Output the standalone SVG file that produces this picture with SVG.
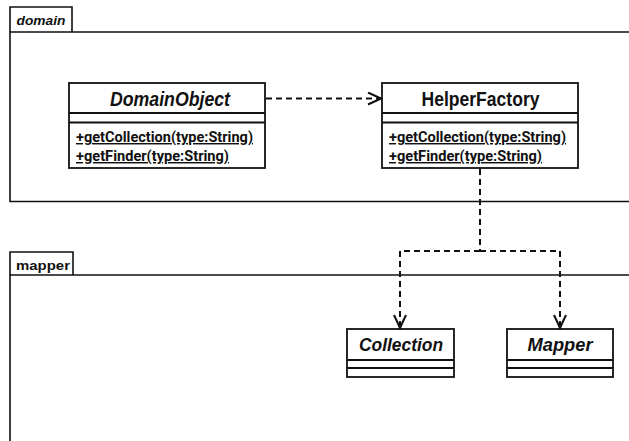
<svg xmlns="http://www.w3.org/2000/svg" width="629" height="441" viewBox="0 0 629 441">
<style>
.frame{fill:none;stroke:#111;stroke-width:1.6}
.box{fill:#fff;stroke:#111;stroke-width:1.8}
.dep{fill:none;stroke:#111;stroke-width:2;stroke-dasharray:6 4}
.title{font-family:"Liberation Sans",Arial,sans-serif;font-weight:bold;fill:#111;text-anchor:middle}
.meth{font-family:Roboto,"Liberation Sans",sans-serif;font-weight:700;font-size:14.5px;fill:#111;text-decoration:underline}
.tab{font-family:"Liberation Sans",Arial,sans-serif;font-weight:bold;font-size:13px;fill:#111}
</style>
<defs>
<marker id="open" markerWidth="16" markerHeight="14" refX="14" refY="7" orient="auto" markerUnits="userSpaceOnUse">
<path d="M1,1 L14,7 L1,13" fill="none" stroke="#111" stroke-width="2"/>
</marker>
</defs>
<rect width="629" height="441" fill="#fff"/>
<g id="domain">
<path class="frame" d="M10,32 V7 H72 V32"/>
<path class="frame" d="M640,32 H10 V201.5 H640"/>
<text class="tab" x="16.5" y="25" font-style="italic" textLength="49" lengthAdjust="spacingAndGlyphs">domain</text>
</g>
<g id="mapper">
<path class="frame" d="M10,275 V252 H73 V275"/>
<path class="frame" d="M640,275 H10 V445"/>
<text class="tab" x="16" y="270" textLength="54" lengthAdjust="spacingAndGlyphs">mapper</text>
</g>
<g id="DomainObject">
<rect class="box" x="69" y="83" width="196" height="85"/>
<line class="box" x1="69" y1="113" x2="265" y2="113"/>
<line class="box" x1="69" y1="122.5" x2="265" y2="122.5"/>
<text class="title" x="170" y="106" font-size="20" font-style="italic" textLength="120" lengthAdjust="spacingAndGlyphs">DomainObject</text>
<text class="meth" x="76" y="142" textLength="177" lengthAdjust="spacingAndGlyphs">+getCollection(type:String)</text>
<text class="meth" x="76" y="161" textLength="153" lengthAdjust="spacingAndGlyphs">+getFinder(type:String)</text>
</g>
<g id="HelperFactory">
<rect class="box" x="382" y="83" width="196" height="85"/>
<line class="box" x1="382" y1="113" x2="578" y2="113"/>
<line class="box" x1="382" y1="122.5" x2="578" y2="122.5"/>
<text class="title" x="480.5" y="106" font-size="20" textLength="118" lengthAdjust="spacingAndGlyphs">HelperFactory</text>
<text class="meth" x="389" y="142" textLength="177" lengthAdjust="spacingAndGlyphs">+getCollection(type:String)</text>
<text class="meth" x="389" y="161" textLength="153" lengthAdjust="spacingAndGlyphs">+getFinder(type:String)</text>
</g>
<g id="Collection">
<rect class="box" x="347" y="329" width="107" height="48"/>
<line class="box" x1="347" y1="360" x2="454" y2="360"/>
<line class="box" x1="347" y1="368" x2="454" y2="368"/>
<text class="title" x="401" y="350.5" font-size="19" font-style="italic" textLength="84" lengthAdjust="spacingAndGlyphs">Collection</text>
</g>
<g id="Mapper">
<rect class="box" x="507" y="329" width="106" height="48"/>
<line class="box" x1="507" y1="360" x2="613" y2="360"/>
<line class="box" x1="507" y1="368" x2="613" y2="368"/>
<text class="title" x="560" y="350.5" font-size="19" font-style="italic" textLength="65" lengthAdjust="spacingAndGlyphs">Mapper</text>
</g>
<g id="connectors">
<path class="dep" d="M266,98.5 H381" marker-end="url(#open)"/>
<path class="dep" d="M480,169 V251"/>
<path class="dep" d="M480,251 H400 V328" marker-end="url(#open)"/>
<path class="dep" d="M480,251 H560 V328" marker-end="url(#open)"/>
</g>
</svg>
